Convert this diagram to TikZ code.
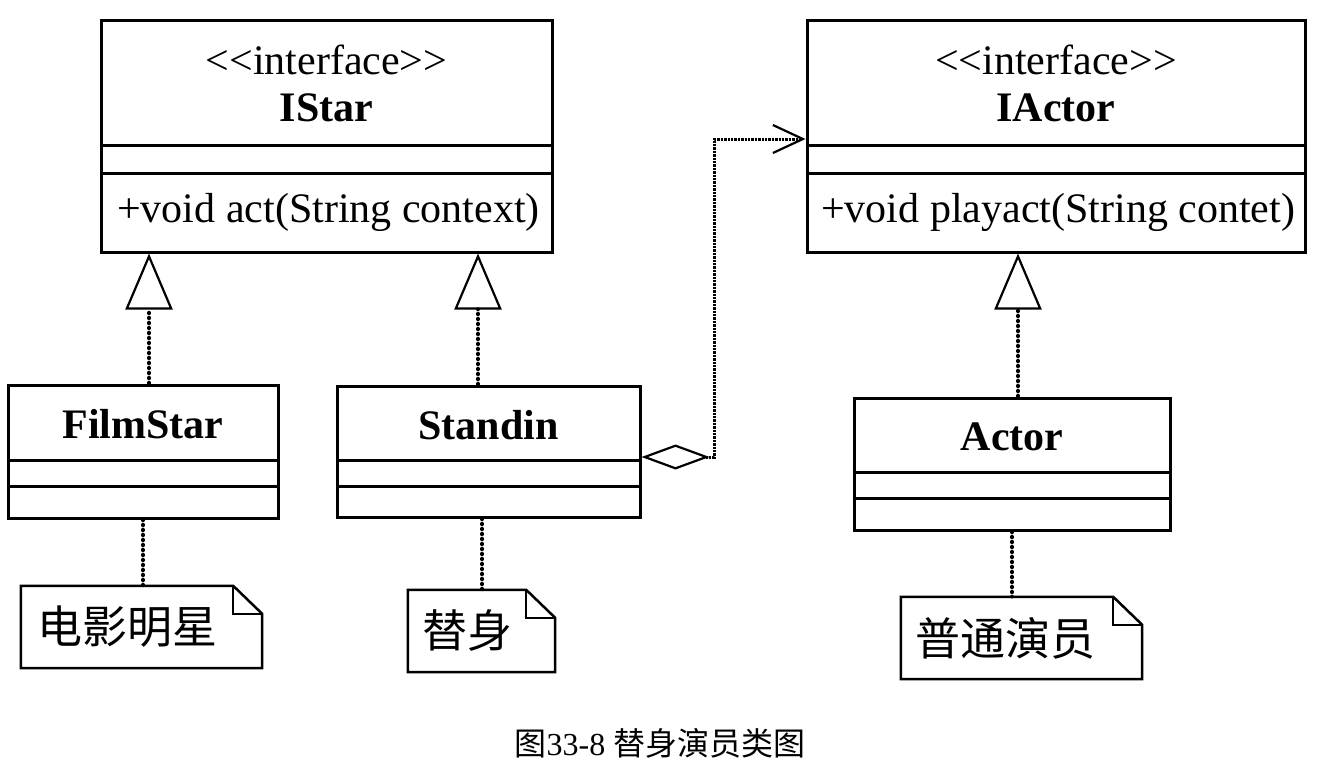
\documentclass[tikz,border=0pt]{standalone}
\usepackage{fontspec}
\setmainfont{Liberation Serif}
\newfontfamily\cjk{Noto Sans CJK SC}
\usetikzlibrary{arrows.meta,calc}
\newcommand\fsz[1]{\fontsize{#1}{#1}\selectfont}
\newcommand\stereotxt{<\kern0pt<\kern0pt interface\kern0pt>\kern0pt>}
\begin{document}
\begin{tikzpicture}[x=1pt,y=-1pt,
  cls/.style={draw, line width=3pt, inner sep=0pt},
  div/.style={line width=3pt},
  stereo/.style={inner sep=0pt, font=\fsz{42}},
  cname/.style={inner sep=0pt, font=\bfseries\fsz{42}},
  oper/.style={inner sep=0pt, anchor=west, font=\fsz{42}},
  notebox/.style={inner sep=0pt},
  notetext/.style={inner sep=0pt, anchor=west, font=\cjk\fsz{45}},
  noteline/.style={line width=2.5pt, line join=miter},
  dots/.style={line width=3.4pt, dash pattern=on 1pt off 4pt, line cap=round},
  real/.style={dots, -{Triangle[open,length=56pt,width=47pt,line width=2.2pt]}},
  agg/.style={line width=3pt, dash pattern=on 2.4pt off 1pt,
    {Diamond[open,length=68pt,width=25pt,line width=2.2pt]}-{Straight Barb[length=30pt,width=28pt,line width=2.2pt]}}
]
\useasboundingbox[fill=white] (0,0) rectangle (1320,769);

% ---- IStar ----
\node[cls, minimum width=451pt, minimum height=232pt] (istar) at (326.5,136) {};
\node[stereo] (istarst) at (326.5,60) {\stereotxt};
\node[cname] (istarnm) at (326.5,108) {IStar};
\draw[div] ($(istar.north west)+(0,127)$) -- ($(istar.north east)+(0,127)$);
\draw[div] ($(istar.north west)+(0,155)$) -- ($(istar.north east)+(0,155)$);
\node[oper] (istarop) at (117,212) {+void act(String context)};

% ---- IActor ----
\node[cls, minimum width=498pt, minimum height=232pt] (iactor) at (1056,136) {};
\node[stereo] (iactorst) at (1056,60) {\stereotxt};
\node[cname] (iactornm) at (1056,108) {IActor};
\draw[div] ($(iactor.north west)+(0,127)$) -- ($(iactor.north east)+(0,127)$);
\draw[div] ($(iactor.north west)+(0,155)$) -- ($(iactor.north east)+(0,155)$);
\node[oper] (iactorop) at (821,212) {+void playact(String contet)};

% ---- FilmStar ----
\node[cls, minimum width=270pt, minimum height=133pt] (filmstar) at (143,451.5) {};
\node[cname] (filmstarnm) at (143,424) {FilmStar};
\draw[div] ($(filmstar.north west)+(0,77)$) -- ($(filmstar.north east)+(0,77)$);
\draw[div] ($(filmstar.north west)+(0,103)$) -- ($(filmstar.north east)+(0,103)$);

% ---- Standin ----
\node[cls, minimum width=303pt, minimum height=131pt] (standin) at (488.5,451.5) {};
\node[cname] (standinnm) at (488.5,425) {Standin};
\draw[div] ($(standin.north west)+(0,76)$) -- ($(standin.north east)+(0,76)$);
\draw[div] ($(standin.north west)+(0,102)$) -- ($(standin.north east)+(0,102)$);

% ---- Actor ----
\node[cls, minimum width=316pt, minimum height=132pt] (actor) at (1012,464) {};
\node[cname] (actornm) at (1012,437) {Actor};
\draw[div] ($(actor.north west)+(0,76)$) -- ($(actor.north east)+(0,76)$);
\draw[div] ($(actor.north west)+(0,102)$) -- ($(actor.north east)+(0,102)$);

% ---- Notes ----
\node[notebox, minimum width=241pt, minimum height=82pt] (n1) at (141.5,627) {};
\node[notetext] (n1t) at (37,627) {电影明星};
\draw[noteline] (n1.north west) -- ([xshift=-29pt]n1.north east) -- ([yshift=-28pt]n1.north east) -- (n1.south east) -- (n1.south west) -- cycle;
\draw[noteline] ([xshift=-29pt]n1.north east) -- ([xshift=-29pt,yshift=-28pt]n1.north east) -- ([yshift=-28pt]n1.north east);

\node[notebox, minimum width=147pt, minimum height=82pt] (n2) at (481.5,631) {};
\node[notetext] (n2t) at (422,631) {替身};
\draw[noteline] (n2.north west) -- ([xshift=-29pt]n2.north east) -- ([yshift=-28pt]n2.north east) -- (n2.south east) -- (n2.south west) -- cycle;
\draw[noteline] ([xshift=-29pt]n2.north east) -- ([xshift=-29pt,yshift=-28pt]n2.north east) -- ([yshift=-28pt]n2.north east);

\node[notebox, minimum width=241pt, minimum height=82pt] (n3) at (1021.5,638) {};
\node[notetext] (n3t) at (915,638) {普通演员};
\draw[noteline] (n3.north west) -- ([xshift=-29pt]n3.north east) -- ([yshift=-28pt]n3.north east) -- (n3.south east) -- (n3.south west) -- cycle;
\draw[noteline] ([xshift=-29pt]n3.north east) -- ([xshift=-29pt,yshift=-28pt]n3.north east) -- ([yshift=-28pt]n3.north east);

% ---- Realizations ----
\coordinate (fsTop) at ([xshift=6pt]filmstar.north);
\coordinate (sdTop) at ([xshift=-10.5pt]standin.north);
\coordinate (acTop) at ([xshift=6pt]actor.north);
\draw[real] (fsTop) -- (fsTop |- istar.south);
\draw[real] (sdTop) -- (sdTop |- istar.south);
\draw[real] (acTop) -- (acTop |- iactor.south);

% ---- Note links ----
\coordinate (sdBot) at ([xshift=-6.5pt]standin.south);
\draw[dots] (filmstar.south) -- (filmstar.south |- n1.north);
\draw[dots] (sdBot) -- (sdBot |- n2.north);
\draw[dots] (actor.south) -- (actor.south |- n3.north);

% ---- Aggregation ----
\coordinate (aggS) at ([yshift=-5.5pt]standin.east);
\coordinate (aggE) at ([yshift=-3pt]iactor.west);
\draw[agg] (aggS) -- ++(73,0) |- (aggE);

% ---- Caption ----
\node[inner sep=0pt, font=\fsz{32}] (caption) at (660,743) {{\cjk 图}33-8 {\cjk 替身演员类图}};
\end{tikzpicture}
\end{document}
